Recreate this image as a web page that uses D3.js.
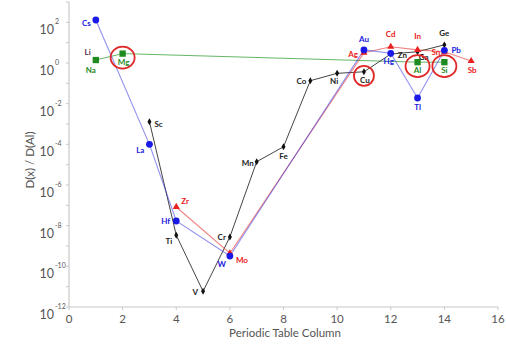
<!DOCTYPE html>
<html lang="en">
<head>
<meta charset="utf-8">
<title>D(x) / D(Al) by Periodic Table Column</title>
<script src="https://cdn.jsdelivr.net/npm/d3@7"></script>
<style>
  body { margin: 0; background: #fff; }
  text { font-family: Lato, "Open Sans", sans-serif; }
</style>
</head>
<body>
<script>
// series data: element, periodic table column, D(x)/D(Al)
var blueElems = ["Cs", "La", "Hf", "W", "Au", "Hg", "Tl", "Pb"];
var blueCols  = [1, 3, 4, 6, 11, 12, 13, 14];
var blueVals  = [130, 1.0e-4, 1.7e-8, 3.2e-10, 4.4, 3.0, 0.019, 4.2];

var redElems = ["Zr", "Mo", "Ag", "Cd", "In", "Sn", "Sb"];
var redCols  = [4, 6, 11, 12, 13, 14, 15];
var redVals  = [8.3e-8, 4.4e-10, 3.2, 6.3, 4.4, 3.6, 1.25];

var blackElems = ["Sc", "Ti", "V", "Cr", "Mn", "Fe", "Co", "Ni", "Cu", "Zn", "Ga", "Ge"];
var blackCols  = [3, 4, 5, 6, 7, 8, 9, 10, 11, 12, 13, 14];
var blackVals  = [1.3e-3, 3.4e-9, 5.9e-12, 2.8e-9, 1.4e-5, 7.6e-5, 0.135, 0.31, 0.37, 2.75, 3.6, 7.8];

var greenElems = ["Na", "Mg", "Al", "Si"];
var greenCols  = [1, 2, 13, 14];
var greenVals  = [1.4, 2.9, 1.1, 1.1];

var circled = ["Mg", "Cu", "Al", "Si"];

var xTicks = [0, 2, 4, 6, 8, 10, 12, 14, 16];
var yExps  = [2, 0, -2, -4, -6, -8, -10, -12];

// label placement (dx, dy, anchor)
var lab = {
  Cs: [-5, 6, "end"], Na: [-5, 13, "middle"], Mg: [1, 11, "middle"],
  La: [-5, 9, "end"], Sc: [5, 5, "start"], Zr: [5, -3, "start"],
  Hf: [-6, 3, "end"], Ti: [-4, 9, "end"], V: [-5, 4, "end"],
  Cr: [-4, 3, "end"], W: [-4, 11, "end"], Mo: [6, 10, "start"],
  Mn: [-3, 4, "end"], Fe: [0, 12, "middle"], Co: [-4, 3, "end"],
  Ni: [-3, 11, "middle"], Cu: [1, 11, "middle"], Au: [0, -8, "middle"],
  Ag: [-6, 4, "end"], Cd: [0, -10, "middle"], Hg: [-2, 11, "middle"],
  Zn: [7, 4, "start"], In: [0, -11, "middle"], Ga: [6, 8, "middle"],
  Al: [0, 11, "middle"], Tl: [0, 12, "middle"], Ge: [0, -9, "middle"],
  Sn: [-4, 3, "end"], Pb: [7, 3, "start"], Si: [0, 11, "middle"],
  Sb: [1, 12, "middle"]
};

var w = 506, h = 344;
var svg = d3.select("body").append("svg").attr("width", w).attr("height", h);

var x = d3.scaleLinear().domain([0, 16]).range([69, 498]);
var y = d3.scaleLog().domain([1e-12, 1e3]).range([307, 2]);

// axes
svg.append("line").attr("x1", x(0)).attr("x2", x(16)).attr("y1", y(1e-12)).attr("y2", y(1e-12))
  .attr("stroke", "#c8c8c8").attr("stroke-width", 1.2);
svg.append("line").attr("x1", x(0)).attr("x2", x(0)).attr("y1", y(1e-12)).attr("y2", y(1e3))
  .attr("stroke", "#c8c8c8").attr("stroke-width", 1.2);

var decades = d3.range(-12, 4);
svg.selectAll(".ytick").data(decades).enter().append("line")
  .attr("x1", x(0) - 3).attr("x2", x(0))
  .attr("y1", function(d) { return y(Math.pow(10, d)); })
  .attr("y2", function(d) { return y(Math.pow(10, d)); })
  .attr("stroke", "#c8c8c8");

svg.selectAll(".xtick").data(xTicks).enter().append("line")
  .attr("x1", function(d) { return x(d); }).attr("x2", function(d) { return x(d); })
  .attr("y1", y(1e-12)).attr("y2", y(1e-12) + 3)
  .attr("stroke", "#c8c8c8");

svg.selectAll(".xlab").data(xTicks).enter().append("text")
  .attr("x", function(d) { return x(d); }).attr("y", y(1e-12) + 16)
  .attr("text-anchor", "middle").attr("font-size", 11.5).attr("fill", "#555")
  .text(function(d) { return d; });

var yl = svg.selectAll(".ylab").data(yExps).enter().append("g")
  .attr("transform", function(d) { return "translate(0," + y(Math.pow(10, d)) + ")"; });
yl.append("text").attr("x", 54).attr("y", 12).attr("text-anchor", "end")
  .attr("font-size", 12.5).attr("fill", "#555").text("10");
yl.append("text").attr("x", 55).attr("y", 2).attr("text-anchor", "start")
  .attr("font-size", 7).attr("fill", "#555").text(function(d) { return d; });

svg.append("text").attr("transform", "translate(34,160) rotate(-90)")
  .attr("text-anchor", "middle").attr("font-size", 11.5).attr("fill", "#555")
  .text("D(x) / D(Al)");
svg.append("text").attr("x", 285).attr("y", 337)
  .attr("text-anchor", "middle").attr("font-size", 11.5).attr("fill", "#555")
  .text("Periodic Table Column");

function zipSeries(els, cols, vals) {
  return els.map(function(e, i) { return {el: e, col: cols[i], val: vals[i]}; });
}
var green = zipSeries(greenElems, greenCols, greenVals);
var blue = zipSeries(blueElems, blueCols, blueVals);
var red = zipSeries(redElems, redCols, redVals);
var black = zipSeries(blackElems, blackCols, blackVals);

var line = d3.line().x(function(d) { return x(d.col); }).y(function(d) { return y(d.val); });

svg.append("path").datum(green).attr("d", line).attr("fill", "none")
  .attr("stroke", "#4aa84a").attr("stroke-width", 1).attr("stroke-opacity", 0.85);
svg.append("path").datum(black).attr("d", line).attr("fill", "none")
  .attr("stroke", "#444").attr("stroke-width", 1);
svg.append("path").datum(red).attr("d", line).attr("fill", "none")
  .attr("stroke", "#e83030").attr("stroke-width", 1.1).attr("stroke-opacity", 0.6);
svg.append("path").datum(blue).attr("d", line).attr("fill", "none")
  .attr("stroke", "#3434e0").attr("stroke-width", 1.1).attr("stroke-opacity", 0.55);

// markers
svg.selectAll(".blk").data(black).enter().append("path")
  .attr("transform", function(d) { return "translate(" + x(d.col) + "," + y(d.val) + ")"; })
  .attr("d", d3.symbol().type(d3.symbolDiamond).size(14)).attr("fill", "#111");
svg.selectAll(".grn").data(green).enter().append("path")
  .attr("transform", function(d) { return "translate(" + x(d.col) + "," + y(d.val) + ")"; })
  .attr("d", d3.symbol().type(d3.symbolSquare).size(40)).attr("fill", "#1f8a1f");
svg.selectAll(".red").data(red).enter().append("path")
  .attr("transform", function(d) { return "translate(" + x(d.col) + "," + y(d.val) + ")"; })
  .attr("d", d3.symbol().type(d3.symbolTriangle).size(22)).attr("fill", "#e82020");
svg.selectAll(".blu").data(blue).enter().append("circle")
  .attr("cx", function(d) { return x(d.col); }).attr("cy", function(d) { return y(d.val); })
  .attr("r", 3.4).attr("fill", "#1a1ae6");

// element labels
function labels(data, color) {
  svg.selectAll(null).data(data).enter().append("text")
    .attr("x", function(d) { return x(d.col) + lab[d.el][0]; })
    .attr("y", function(d) { return y(d.val) + lab[d.el][1]; })
    .attr("text-anchor", function(d) { return lab[d.el][2]; })
    .attr("font-size", 8).attr("font-weight", "bold").attr("fill", color)
    .text(function(d) { return d.el; });
}
labels(black, "#222");
labels(green, "#1f8a1f");
labels(red, "#e82020");
labels(blue, "#2020e0");
svg.append("text").attr("x", x(1) - 5).attr("y", y(greenVals[0]) - 5)
  .attr("text-anchor", "end").attr("font-size", 8).attr("font-weight", "bold")
  .attr("fill", "#5a3050").text("Li");

// red rings
var all = green.concat(black);
svg.selectAll(".ring").data(all.filter(function(d) { return circled.indexOf(d.el) >= 0; }))
  .enter().append("ellipse")
  .attr("cx", function(d) { return x(d.col); })
  .attr("cy", function(d) { return y(d.val) + 4; })
  .attr("rx", function(d) { return d.el === "Cu" ? 10 : 12; })
  .attr("ry", function(d) { return d.el === "Cu" ? 10 : 11; })
  .attr("fill", "none").attr("stroke", "#e02828").attr("stroke-width", 1.8);
</script>
</body>
</html>
